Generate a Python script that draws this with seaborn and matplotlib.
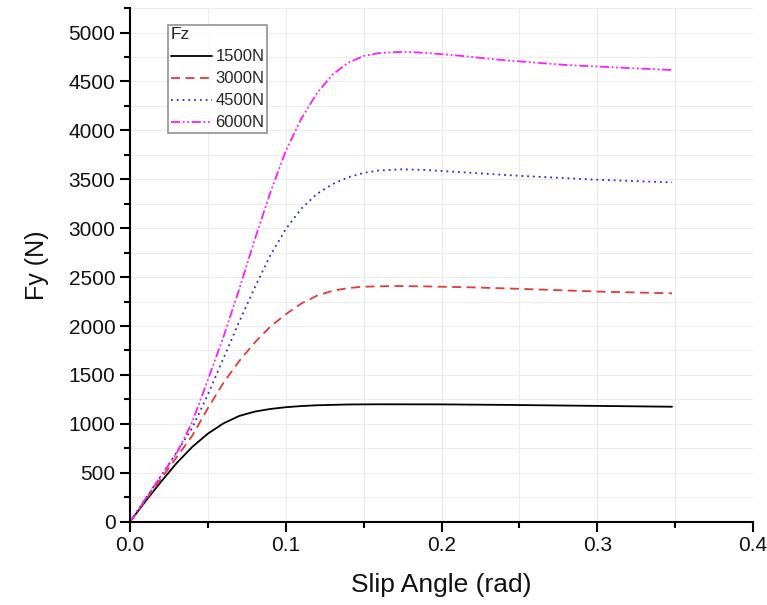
import numpy as np
import pandas as pd
import matplotlib
matplotlib.use("Agg")
import matplotlib.pyplot as plt
import seaborn as sns
from matplotlib.ticker import MultipleLocator, FormatStrFormatter

# ---- data ----
x_1500 = [0.0, 0.01, 0.02, 0.03, 0.04, 0.05, 0.06, 0.07, 0.08, 0.09, 0.10, 0.11, 0.12, 0.14, 0.16, 0.20, 0.24, 0.28, 0.32, 0.348]
y_1500 = [0, 210, 410, 600, 765, 900, 1005, 1080, 1125, 1152, 1170, 1182, 1190, 1198, 1200, 1199, 1194, 1187, 1180, 1175]

x_3000 = [0.0, 0.01, 0.02, 0.03, 0.04, 0.05, 0.06, 0.07, 0.08, 0.09, 0.10, 0.11, 0.12, 0.13, 0.14, 0.15, 0.17, 0.19, 0.22, 0.26, 0.30, 0.348]
y_3000 = [0, 220, 440, 660, 880, 1160, 1420, 1640, 1830, 1993, 2120, 2230, 2310, 2360, 2388, 2402, 2409, 2405, 2395, 2375, 2352, 2334]

x_4500 = [0.0, 0.01, 0.02, 0.03, 0.04, 0.05, 0.06, 0.07, 0.08, 0.09, 0.10, 0.11, 0.12, 0.13, 0.14, 0.15, 0.16, 0.175, 0.19, 0.21, 0.25, 0.30, 0.348]
y_4500 = [0, 235, 470, 710, 960, 1300, 1670, 2040, 2390, 2720, 2990, 3200, 3350, 3450, 3520, 3565, 3590, 3602, 3595, 3575, 3535, 3495, 3468]

x_6000 = [0.0, 0.01, 0.02, 0.03, 0.04, 0.05, 0.06, 0.07, 0.08, 0.09, 0.10, 0.11, 0.12, 0.13, 0.14, 0.15, 0.16, 0.175, 0.19, 0.21, 0.24, 0.28, 0.32, 0.348]
y_6000 = [0, 235, 470, 700, 1020, 1450, 1890, 2370, 2880, 3360, 3790, 4120, 4380, 4570, 4690, 4760, 4790, 4803, 4792, 4765, 4717, 4668, 4637, 4617]

labels = ["1500N", "3000N", "4500N", "6000N"]
colors = ["#000000", "#e03a3a", "#2a2ad0", "#ff1aff"]

series = [(x_1500, y_1500), (x_3000, y_3000), (x_4500, y_4500), (x_6000, y_6000)]
frames = []
for lab, (xs, ys) in zip(labels, series):
    frames.append(pd.DataFrame({"Slip Angle": xs, "Fy": ys, "Fz": lab}))
df = pd.concat(frames, ignore_index=True)

sns.set_theme(style="white")
plt.rcParams['font.family'] = ['Liberation Sans', 'DejaVu Sans']

fig = plt.figure(figsize=(7.67, 6.05), dpi=100)
ax = fig.add_axes([0.1695, 0.1377, 0.8123, 0.849])

dashes = {"1500N": "", "3000N": (5, 3), "4500N": (1, 2.2), "6000N": (5, 1.5, 1, 1.5, 1, 1.5)}
palette = dict(zip(labels, colors))
sns.lineplot(data=df, x="Slip Angle", y="Fy", hue="Fz", style="Fz",
             dashes=dashes, palette=palette, linewidth=1.3, ax=ax,
             sort=False, estimator=None)

ax.set_xlim(0, 0.4)
ax.set_ylim(0, 5250)
ax.xaxis.set_major_locator(MultipleLocator(0.1))
ax.xaxis.set_minor_locator(MultipleLocator(0.05))
ax.yaxis.set_major_locator(MultipleLocator(500))
ax.yaxis.set_minor_locator(MultipleLocator(250))
ax.xaxis.set_major_formatter(FormatStrFormatter("%.1f"))

ax.grid(True, which="both", color="#ececec", linewidth=0.8)
ax.set_axisbelow(True)
for s in ["top", "right"]:
    ax.spines[s].set_visible(False)
for s in ["left", "bottom"]:
    ax.spines[s].set_color("black")
    ax.spines[s].set_linewidth(1.5)

ax.tick_params(which="major", direction="out", length=7, width=1.5, labelsize=15,
               bottom=True, left=True, colors="black", labelcolor="#111111")
ax.tick_params(which="minor", direction="out", length=4, width=1.5,
               bottom=True, left=True, colors="black")

ax.set_xlabel("Slip Angle (rad)", fontsize=19, labelpad=13, color="#111111")
ax.set_ylabel("Fy (N)", fontsize=18, labelpad=14, color="#111111")

leg = ax.legend(title="Fz", loc="upper left", bbox_to_anchor=(0.061, 0.967),
                fontsize=12, title_fontsize=12.5, frameon=True, fancybox=False,
                handlelength=2.5, handletextpad=0.2, borderpad=0.15,
                labelspacing=0.42, borderaxespad=0)
leg.get_frame().set_edgecolor("#777777")
leg.get_frame().set_linewidth(1.2)
leg._legend_box.align = "left"

fig.savefig("out.png", dpi=100)
